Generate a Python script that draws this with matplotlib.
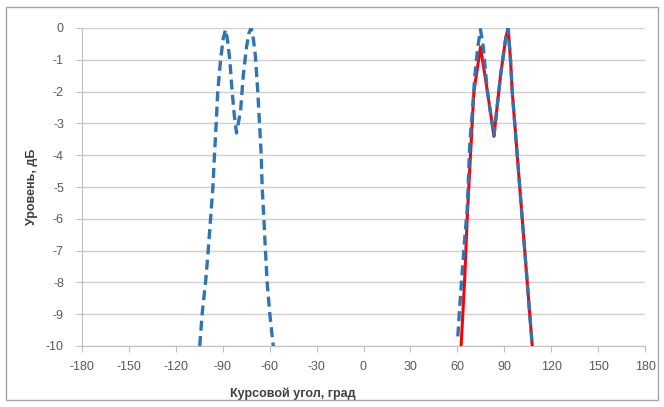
import numpy as np
import matplotlib.pyplot as plt
from matplotlib.patches import Rectangle

# Left lobe (blue dashed), angle in degrees and level in dB
left_deg = [-104.7, -103.2, -101.0, -99.3, -97.8, -96.3, -95.3, -94.2, -93.2, -91.4,
            -89.6, -88.2, -86.9, -85.5, -84.0, -82.5, -81.2, -78.6, -76.9, -74.8,
            -73.2, -71.8, -70.4, -69.1, -67.6, -66.5, -65.4, -64.8, -63.7, -62.7,
            -61.6, -59.9, -57.7]
left_db = [-10.0, -9.0, -8.0, -7.0, -6.0, -5.0, -4.0, -3.0, -2.0, -1.0,
           -0.3, -0.05, -0.4, -1.0, -2.0, -2.8, -3.3, -2.6, -1.5, -0.6,
           -0.15, 0.0, -0.35, -0.9, -2.0, -3.0, -4.0, -5.0, -6.0, -7.0,
           -8.0, -9.0, -10.0]

# Right lobe, blue dashed
right_blue_deg = [60.3, 61.6, 63.1, 64.6, 66.3, 68.0, 69.5, 71.2, 73.1, 74.8,
                  76.6, 79.1, 83.4, 87.6, 91.0, 92.5, 94.0, 95.1, 98.3, 101.5,
                  104.7, 107.9]
right_blue_db = [-9.7, -8.7, -7.7, -6.7, -5.7, -3.6, -2.7, -1.5, -0.6, -0.05,
                 -0.6, -1.95, -3.4, -1.5, -0.3, 0.0, -1.0, -2.0, -4.0, -6.0,
                 -8.0, -10.0]

# Right lobe, red solid
right_red_deg = [62.4, 64.6, 66.3, 68.4, 70.6, 74.8, 79.1, 83.4, 87.6, 91.0,
                 92.5, 94.0, 95.1, 98.3, 101.5, 104.7, 107.9]
right_red_db = [-10.0, -8.0, -6.0, -4.0, -2.0, -0.6, -1.95, -3.4, -1.5, -0.3,
                0.0, -1.0, -2.0, -4.0, -6.0, -8.0, -10.0]

x_ticks = np.arange(-180, 181, 30)
y_ticks = np.arange(-10, 1, 1)

blue = '#2e75b6'
red = '#ff0000'
grey_txt = '#595959'

plt.rcParams['font.family'] = ['Liberation Sans', 'DejaVu Sans']

fig = plt.figure(figsize=(6.64, 4.07), dpi=100)
ax = fig.add_axes([82 / 664, 1 - 346 / 407, (645 - 82) / 664, (346 - 28) / 407])

ax.plot(right_red_deg, right_red_db, color=red, lw=2.2, zorder=3)
ax.plot(left_deg, left_db, color=blue, lw=2.4, dashes=(3, 1.6), zorder=4)
ax.plot(right_blue_deg, right_blue_db, color=blue, lw=2.4, dashes=(3, 1.6), zorder=4)

ax.set_xlim(-180, 180)
ax.set_ylim(-10, 0)
ax.set_xticks(x_ticks)
ax.set_yticks(y_ticks)
ax.set_xticklabels([str(v) for v in x_ticks])
ax.set_yticklabels([str(v) for v in y_ticks])
ax.tick_params(axis='both', colors='#bfbfbf', labelcolor=grey_txt, labelsize=9,
               length=4, width=0.8)
ax.tick_params(axis='x', pad=7)
ax.tick_params(axis='y', pad=9)

ax.grid(axis='y', color='#d0d0d0', lw=1.0)
ax.set_axisbelow(True)
for side in ('top', 'right'):
    ax.spines[side].set_visible(False)
for side in ('left', 'bottom'):
    ax.spines[side].set_color('#bfbfbf')
    ax.spines[side].set_linewidth(0.8)

ax.set_xlabel('Курсовой угол, град', fontsize=9, fontweight='bold', color='#404040')
ax.xaxis.set_label_coords((293 - 82) / (645 - 82), -0.13)
ax.set_ylabel('Уровень, дБ', fontsize=9, fontweight='bold', color='#404040')
ax.yaxis.set_label_coords(-(82 - 38) / (645 - 82), 0.5)

# Outer chart frame
fig.patches.append(Rectangle((6 / 664, 7 / 407), 652 / 664, 393 / 407,
                             transform=fig.transFigure, fill=False,
                             edgecolor='#a6a6a6', lw=1.0))

fig.savefig('out.png', dpi=100)
